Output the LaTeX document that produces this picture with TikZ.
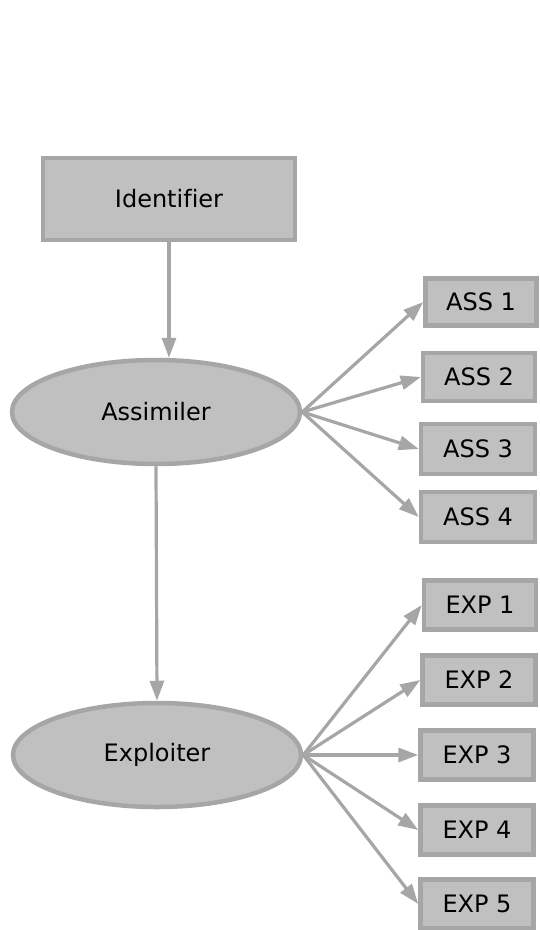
\documentclass[tikz,border=0pt]{standalone}
\usepackage{fontspec}
\setmainfont[Ligatures={NoCommon}]{DejaVu Sans}
\usetikzlibrary{arrows.meta,shapes.geometric}
\definecolor{nodefill}{HTML}{C0C0C0}
\definecolor{nodeline}{HTML}{A6A6A6}
\begin{document}
\begin{tikzpicture}[x=1pt,y=-1pt,
  every node/.style={font=\fontsize{24}{28}\selectfont, text=black},
  boxnode/.style={draw=nodeline, fill=nodefill, line width=4.5pt, rectangle, inner sep=0pt},
  ellnode/.style={draw=nodeline, fill=nodefill, line width=4.5pt, ellipse, inner sep=0pt},
  conn/.style={draw=nodeline, line width=3.2pt, -{Triangle[length=20pt,width=14pt]}}]
\useasboundingbox[fill=white] (0,0) rectangle (539,930);
\node[boxnode, minimum width=252pt, minimum height=82pt] (ident) at (169,199) {Identifier};
\node[ellnode, minimum width=288pt, minimum height=104pt] (assim) at (156,412) {Assimiler};
\node[ellnode, minimum width=288pt, minimum height=104pt] (explo) at (157,755) {Exploiter};
\node[boxnode, minimum width=111pt, minimum height=47pt] (a1) at (481,302) {ASS 1};
\node[boxnode, minimum width=112pt, minimum height=48pt] (a2) at (479,377) {ASS 2};
\node[boxnode, minimum width=114pt, minimum height=50pt] (a3) at (478,449) {ASS 3};
\node[boxnode, minimum width=114pt, minimum height=50pt] (a4) at (478,517) {ASS 4};
\node[boxnode, minimum width=112pt, minimum height=49pt] (e1) at (480,605) {EXP 1};
\node[boxnode, minimum width=113pt, minimum height=49pt] (e2) at (479,680) {EXP 2};
\node[boxnode, minimum width=113pt, minimum height=49pt] (e3) at (477,755) {EXP 3};
\node[boxnode, minimum width=113pt, minimum height=49pt] (e4) at (477,830) {EXP 4};
\node[boxnode, minimum width=113pt, minimum height=49pt] (e5) at (477,904) {EXP 5};
\coordinate (assimtop) at (ident.south |- assim.north);
\draw[conn] (ident.south) -- (assimtop);
\draw[conn] (assim.south) -- (explo.north);
\foreach \t in {a1,a2,a3,a4} \draw[conn] (assim.east) -- (\t.west);
\foreach \t in {e1,e2,e3,e4,e5} \draw[conn] (explo.east) -- (\t.west);
\end{tikzpicture}
\end{document}
